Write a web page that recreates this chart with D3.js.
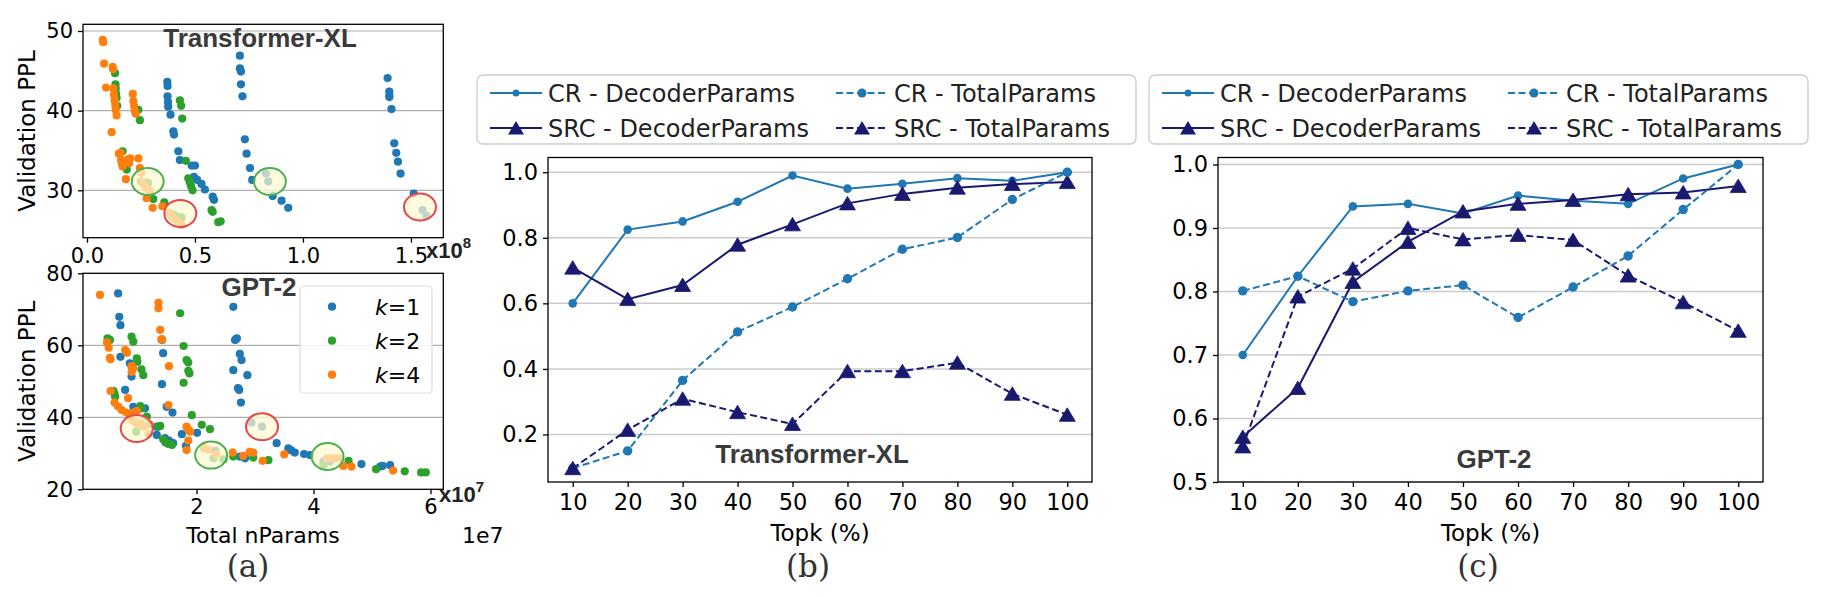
<!DOCTYPE html>
<html>
<head>
<meta charset="utf-8">
<script src="https://cdnjs.cloudflare.com/ajax/libs/d3/7.8.5/d3.min.js"></script>
<style>
  body { margin: 0; background: #fff; }
  svg text { font-family: "DejaVu Sans", sans-serif; }
</style>
</head>
<body>
<div id="root"></div>
<script>
// ---- panel (a): Transformer-XL, x in 1e8 params, y = validation PPL
const txlK1 = [[0.372,43.6],[0.373,43.1],[0.373,41.8],[0.375,41.1],[0.376,40.5],[0.387,39.5],[0.4,37.4],[0.403,37.0],
  [0.423,34.9],[0.43,33.8],[0.485,33.1],[0.5,33.1],[0.495,31.7],[0.51,31.3],[0.53,30.8],[0.546,30.1],[0.582,29.2],[0.588,28.8],
  [0.708,46.9],[0.708,45.3],[0.713,44.9],[0.713,43.3],[0.72,41.8],[0.731,36.4],[0.739,34.6],[0.755,32.8],[0.765,31.3],
  [0.829,32.1],[0.839,31.1],[0.86,29.3],[0.901,28.7],[0.932,27.8],
  [1.392,44.1],[1.40,42.4],[1.40,41.9],[1.40,41.7],[1.41,40.2],[1.423,35.9],[1.432,34.7],[1.44,33.6],[1.452,32.1],[1.513,29.6],[1.554,27.5],[1.572,26.8]];
const txlK2 = [[0.13,44.7],[0.132,43.3],[0.133,42.8],[0.135,42.1],[0.137,41.6],[0.14,40.6],[0.238,40.1],[0.245,38.8],[0.165,34.9],[0.184,32.6],
  [0.25,31.1],[0.265,31.0],[0.283,30.9],[0.307,28.9],[0.358,28.5],[0.393,27.0],[0.41,26.8],[0.438,26.6],[0.43,41.3],[0.436,40.6],[0.441,39.0],
  [0.458,33.7],[0.469,31.5],[0.476,31.0],[0.482,30.5],[0.489,30.0],[0.577,27.5],[0.582,27.3],[0.608,26.0],[0.619,26.1]];
const txlK4 = [[0.073,48.9],[0.075,48.6],[0.079,45.9],[0.088,42.9],[0.119,45.5],[0.121,45.2],[0.122,42.8],[0.125,42.0],[0.128,41.3],[0.131,40.7],
  [0.133,40.1],[0.137,39.4],[0.114,37.3],[0.212,42.1],[0.215,41.2],[0.218,40.6],[0.221,40.0],[0.226,39.6],[0.147,34.6],[0.156,34.7],[0.158,33.8],
  [0.161,33.4],[0.165,33.0],[0.19,33.9],[0.195,33.4],[0.2,34.0],[0.18,31.4],[0.238,34.0],[0.245,32.8],[0.252,32.2],[0.258,31.0],[0.265,30.6],
  [0.272,30.3],[0.28,30.1],[0.29,29.9],[0.276,29.0],[0.304,27.8],[0.349,28.0],[0.376,27.2],[0.39,26.8],[0.405,26.4],[0.42,26.1],[0.438,25.7]];

// ---- panel (a): GPT-2, x in 1e7 params
const gptK1 = [[0.66,74.4],[0.68,67.9],[0.7,65.6],[0.7,56.8],[0.78,47.6],[0.86,55.0],[0.89,51.3],[0.92,42.9],[1.12,42.5],[1.32,37.4],[1.32,35.1],
  [1.41,61.5],[1.43,57.8],[1.41,49.2],[1.49,42.9],[1.59,41.3],[1.46,34.2],[1.53,33.5],[1.6,32.8],[1.75,35.3],[1.82,32.1],[2.01,35.7],[2.32,30.7],
  [2.63,70.7],[2.66,61.5],[2.69,61.9],[2.74,57.6],[2.77,55.9],[2.63,53.1],[2.87,51.7],[2.71,48.1],[2.73,47.6],[2.76,44.1],[2.74,29.1],[2.83,28.6],
  [2.94,38.5],[3.12,37.4],[3.37,32.8],[3.57,31.4],[3.62,30.8],[3.68,30.2],[3.84,29.8],[3.94,29.5],[4.17,27.7],[4.28,27.7],[4.82,27.0],
  [5.14,26.3],[5.18,26.5],[5.31,26.7]];
const gptK2 = [[0.48,61.9],[0.52,61.5],[0.58,47.3],[0.6,46.5],[0.61,45.7],[0.89,62.4],[0.92,61.0],[0.98,56.4],[0.99,55.4],[1.06,53.3],[1.09,51.7],
  [1.04,43.1],[1.06,42.5],[1.15,40.2],[0.97,36.0],[1.35,37.4],[1.38,37.6],[1.43,33.9],[1.47,33.0],[1.52,32.6],[1.58,32.3],[1.72,68.9],[1.78,59.8],
  [1.83,55.9],[1.86,55.2],[1.86,52.9],[1.88,52.2],[1.78,49.6],[1.92,40.6],[2.09,37.9],[2.23,36.7],[2.29,28.6],[2.46,28.3],[2.63,29.1],[2.97,28.8],
  [3.23,28.1],[4.17,26.7],[4.6,27.9],[5.07,25.6],[5.56,25.0],[5.84,24.7],[5.92,24.7]];
const gptK4 = [[0.35,74.0],[0.47,60.8],[0.5,59.3],[0.52,56.5],[0.53,56.1],[0.53,47.3],[0.6,44.1],[0.66,43.0],[0.72,42.0],[0.8,41.3],[0.86,40.8],
  [0.92,41.3],[0.98,41.8],[0.78,58.7],[0.8,58.3],[0.81,57.9],[0.89,54.2],[0.9,53.0],[0.92,53.6],[0.89,52.6],[0.83,45.3],[0.9,39.2],[0.95,38.6],
  [1.0,38.0],[1.05,38.4],[1.1,37.4],[1.2,38.0],[1.18,35.4],[1.35,71.8],[1.35,70.3],[1.38,64.3],[1.40,61.6],[1.41,61.7],[1.52,43.4],[1.53,54.2],
  [1.83,37.4],[1.86,36.6],[1.89,36.0],[1.86,33.5],[1.83,30.9],[2.13,31.5],[2.2,31.0],[2.34,29.8],[2.62,30.2],[2.8,29.3],[2.91,30.4],[2.97,30.2],
  [3.13,27.9],[3.5,29.7],[4.23,28.6],[4.3,28.6],[4.38,28.6],[4.45,28.6],[4.51,26.5],[4.65,26.3],[5.36,25.2]];

// highlighted spots (data units) and their ring colour
const txlMarks = [[0.281,31.1,"g"],[0.432,27.1,"r"],[0.847,31.1,"g"],[1.542,27.9,"r"]];
const gptMarks = [[0.978,36.9,"r"],[2.25,29.5,"g"],[3.12,37.4,"r"],[4.24,29.1,"g"]];

// ---- panels (b) and (c)
const topk = [10, 20, 30, 40, 50, 60, 70, 80, 90, 100];
const txlCrDec  = [0.60, 0.825, 0.85, 0.91, 0.99, 0.95, 0.965, 0.982, 0.974, 1.0];
const txlCrTot  = [0.097, 0.15, 0.365, 0.513, 0.589, 0.675, 0.765, 0.801, 0.917, 1.0];
const txlSrcDec = [0.709, 0.613, 0.656, 0.779, 0.841, 0.905, 0.934, 0.953, 0.964, 0.97];
const txlSrcTot = [0.097, 0.214, 0.309, 0.268, 0.232, 0.393, 0.393, 0.419, 0.324, 0.26];
const gptCrDec  = [0.70, 0.824, 0.934, 0.938, 0.923, 0.951, 0.943, 0.938, 0.978, 1.0];
const gptCrTot  = [0.801, 0.824, 0.784, 0.801, 0.81, 0.759, 0.807, 0.856, 0.929, 1.0];
const gptSrcDec = [0.571, 0.648, 0.815, 0.878, 0.926, 0.938, 0.944, 0.953, 0.956, 0.966];
const gptSrcTot = [0.556, 0.792, 0.836, 0.90, 0.882, 0.889, 0.881, 0.825, 0.783, 0.738];
const legendNames = ["CR - DecoderParams", "SRC - DecoderParams", "CR - TotalParams", "SRC - TotalParams"];

const blue = "#1f77b4";
const navy = "#191970";
const kColors = ["#1f77b4", "#2ca02c", "#ff7f0e"];
const titleColor = "#3a3a3a";

const svg = d3.select("#root")
  .append("svg")
  .attr("width", 1830)
  .attr("height", 597)
  .style("background", "#fff");

function styleAxis(g, size) {
  g.attr("font-size", size).attr("font-family", "DejaVu Sans");
  g.select(".domain").remove();
  g.selectAll(".tick line").attr("stroke", "#000").attr("stroke-width", 1.3);
}

function scatterPanel(o) {
  const left = 83, right = 443.3;
  const x = d3.scaleLinear().domain(o.xDomain).range([left, right]);
  const y = d3.scaleLinear().domain(o.yDomain).range([o.bottom, o.top]);
  const g = svg.append("g");

  g.selectAll(".grid")
    .data(o.grid)
    .enter()
    .append("line")
    .attr("x1", left).attr("x2", right)
    .attr("y1", d => y(d)).attr("y2", d => y(d))
    .attr("stroke", "#b0b0b0")
    .attr("stroke-width", 1.2);

  o.sets.forEach((set, i) => {
    g.append("g").selectAll("circle")
      .data(set)
      .enter()
      .append("circle")
      .attr("cx", d => x(d[0]))
      .attr("cy", d => y(d[1]))
      .attr("r", 4.1)
      .attr("fill", kColors[i]);
  });

  g.selectAll(".hl")
    .data(o.marks)
    .enter()
    .append("ellipse")
    .attr("cx", d => x(d[0]))
    .attr("cy", d => y(d[1]))
    .attr("rx", 16)
    .attr("ry", 13.5)
    .attr("fill", "#fffad2")
    .attr("fill-opacity", 0.72)
    .attr("stroke", d => d[2] == "g" ? "#4caf50" : "#e8474c")
    .attr("stroke-width", 2);

  g.append("g")
    .attr("transform", `translate(0,${o.bottom})`)
    .call(d3.axisBottom(x).tickValues(o.xTicks).tickFormat(o.xFormat).tickSize(5).tickPadding(5))
    .call(a => styleAxis(a, 21));

  g.append("g")
    .attr("transform", `translate(${left},0)`)
    .call(d3.axisLeft(y).tickValues(o.yTicks).tickFormat(d3.format("d")).tickSize(5).tickPadding(5))
    .call(a => styleAxis(a, 21));

  g.append("rect")
    .attr("x", left).attr("y", o.top)
    .attr("width", right - left).attr("height", o.bottom - o.top)
    .attr("fill", "none")
    .attr("stroke", "#000")
    .attr("stroke-width", 1.3);

  g.append("text")
    .attr("transform", `translate(35,${(o.top + o.bottom) / 2}) rotate(-90)`)
    .attr("text-anchor", "middle")
    .attr("font-size", 23)
    .text("Validation PPL");

  g.append("text")
    .attr("x", o.titleX).attr("y", o.titleY)
    .attr("text-anchor", "middle")
    .attr("font-size", 26)
    .attr("font-weight", "bold")
    .style("font-family", "'Liberation Sans', Arial, sans-serif")
    .attr("fill", titleColor)
    .text(o.title);

  const off = g.append("text")
    .attr("x", o.expX).attr("y", o.expY)
    .attr("font-size", 22)
    .attr("font-weight", "bold")
    .style("font-family", "'Liberation Sans', Arial, sans-serif")
    .attr("fill", "#222");
  off.append("tspan").text("x10");
  off.append("tspan").attr("dy", -10).attr("font-size", 15).text(o.exp);
  return g;
}

scatterPanel({
  xDomain: [-0.0185, 1.65], yDomain: [24.05, 50.84], top: 24.3, bottom: 237.7,
  grid: [30, 40, 50], xTicks: [0, 0.5, 1.0, 1.5], xFormat: d3.format(".1f"), yTicks: [30, 40, 50],
  sets: [txlK1, txlK2, txlK4], marks: txlMarks,
  title: "Transformer-XL", titleX: 260, titleY: 47,
  expX: 426, expY: 258, exp: "8"
});

const gA = scatterPanel({
  xDomain: [0.06, 6.219], yDomain: [20, 80], top: 273.3, bottom: 489.3,
  grid: [40, 60], xTicks: [2, 4, 6], xFormat: d3.format("d"), yTicks: [20, 40, 60, 80],
  sets: [gptK1, gptK2, gptK4], marks: gptMarks,
  title: "GPT-2", titleX: 259, titleY: 296,
  expX: 439, expY: 502, exp: "7"
});

// legend of (a)
const legA = gA.append("g");
legA.append("rect")
  .attr("x", 300).attr("y", 286).attr("width", 132).attr("height", 107)
  .attr("rx", 4)
  .attr("fill", "#fff").attr("fill-opacity", 0.85)
  .attr("stroke", "#dddddd").attr("stroke-width", 1.2);
["1", "2", "4"].forEach((k, i) => {
  const cy = 306.7 + i * 34;
  legA.append("circle").attr("cx", 332).attr("cy", cy).attr("r", 4.1).attr("fill", kColors[i]);
  const t = legA.append("text").attr("x", 375).attr("y", cy + 8).attr("font-size", 22);
  t.append("tspan").attr("font-style", "italic").text("k");
  t.append("tspan").text("=" + k);
});

svg.append("text").attr("x", 263).attr("y", 543).attr("text-anchor", "middle").attr("font-size", 22).text("Total nParams");
svg.append("text").attr("x", 462).attr("y", 543).attr("font-size", 22).text("1e7");

// ---- line panels
function linePanel(o) {
  const top = 157.5, bottom = 482;
  const x = d3.scaleLinear().domain([5.5, 104.5]).range([o.left, o.right]);
  const y = d3.scaleLinear().domain(o.yDomain).range([bottom, top]);
  const g = svg.append("g");

  g.selectAll(".grid")
    .data(o.yTicks)
    .enter()
    .append("line")
    .attr("x1", o.left).attr("x2", o.right)
    .attr("y1", d => y(d)).attr("y2", d => y(d))
    .attr("stroke", "#cccccc")
    .attr("stroke-width", 1.5);

  const line = d3.line().x((d, i) => x(topk[i])).y(d => y(d));
  const series = [
    { vals: o.crDec, color: blue, dash: null, marker: "circle", r: 4.3 },
    { vals: o.srcDec, color: navy, dash: null, marker: "tri" },
    { vals: o.crTot, color: blue, dash: "7,3.5", marker: "circle", r: 4.7 },
    { vals: o.srcTot, color: navy, dash: "7,3.5", marker: "tri" }
  ];
  series.forEach(s => {
    g.append("path")
      .datum(s.vals)
      .attr("d", line)
      .attr("fill", "none")
      .attr("stroke", s.color)
      .attr("stroke-width", 2)
      .attr("stroke-dasharray", s.dash);
    const m = g.append("g").selectAll("path")
      .data(s.vals)
      .enter();
    if (s.marker == "circle") {
      m.append("circle")
        .attr("cx", (d, i) => x(topk[i]))
        .attr("cy", d => y(d))
        .attr("r", s.r)
        .attr("fill", s.color);
    } else {
      m.append("path")
        .attr("transform", (d, i) => `translate(${x(topk[i])},${y(d)})`)
        .attr("d", "M0,-7L8,6.5L-8,6.5Z")
        .attr("fill", s.color)
        .attr("stroke", s.color)
        .attr("stroke-width", 0.8);
    }
  });

  g.append("g")
    .attr("transform", `translate(0,${bottom})`)
    .call(d3.axisBottom(x).tickValues(topk).tickFormat(d3.format("d")).tickSize(5).tickPadding(7))
    .call(a => styleAxis(a, 22.5));

  g.append("g")
    .attr("transform", `translate(${o.left},0)`)
    .call(d3.axisLeft(y).tickValues(o.yTicks).tickFormat(d3.format(".1f")).tickSize(5).tickPadding(5))
    .call(a => styleAxis(a, 22.5));

  g.append("rect")
    .attr("x", o.left).attr("y", top)
    .attr("width", o.right - o.left).attr("height", bottom - top)
    .attr("fill", "none")
    .attr("stroke", "#000")
    .attr("stroke-width", 1.3);

  g.append("text")
    .attr("x", (o.left + o.right) / 2).attr("y", 541)
    .attr("text-anchor", "middle")
    .attr("font-size", 23)
    .text("Topk (%)");

  g.append("text")
    .attr("x", o.titleX).attr("y", o.titleY)
    .attr("text-anchor", "middle")
    .attr("font-size", 26)
    .attr("font-weight", "bold")
    .style("font-family", "'Liberation Sans', Arial, sans-serif")
    .attr("fill", titleColor)
    .text(o.title);

  // legend, two columns
  const lg = g.append("g").attr("transform", `translate(${o.legX},75)`);
  lg.append("rect")
    .attr("width", o.legW).attr("height", 69)
    .attr("rx", 6)
    .attr("fill", "#fff")
    .attr("stroke", "#cccccc")
    .attr("stroke-width", 1.3);
  const cols = [13, 359];
  series.forEach((s, i) => {
    const cx = cols[Math.floor(i / 2)];
    const cy = i % 2 == 0 ? 18 : 53;
    lg.append("line")
      .attr("x1", cx).attr("x2", cx + 52)
      .attr("y1", cy).attr("y2", cy)
      .attr("stroke", s.color)
      .attr("stroke-width", 2)
      .attr("stroke-dasharray", s.dash);
    if (s.marker == "circle") {
      lg.append("circle").attr("cx", cx + 26).attr("cy", cy).attr("r", s.dash ? 4.5 : 3.5).attr("fill", s.color);
    } else {
      lg.append("path")
        .attr("transform", `translate(${cx + 26},${cy})`)
        .attr("d", "M0,-7L8,6.5L-8,6.5Z")
        .attr("fill", s.color);
    }
    lg.append("text")
      .attr("x", cx + 58).attr("y", cy + 8.5)
      .attr("font-size", 24)
      .attr("fill", "#222")
      .text(legendNames[i]);
  });
}

linePanel({
  left: 548, right: 1092, yDomain: [0.055, 1.045], yTicks: [0.2, 0.4, 0.6, 0.8, 1.0],
  crDec: txlCrDec, srcDec: txlSrcDec, crTot: txlCrTot, srcTot: txlSrcTot,
  title: "Transformer-XL", titleX: 812, titleY: 463,
  legX: 477, legW: 659
});

linePanel({
  left: 1218, right: 1763, yDomain: [0.5, 1.011], yTicks: [0.5, 0.6, 0.7, 0.8, 0.9, 1.0],
  crDec: gptCrDec, srcDec: gptSrcDec, crTot: gptCrTot, srcTot: gptSrcTot,
  title: "GPT-2", titleX: 1494, titleY: 468,
  legX: 1149, legW: 659
});

// sub-figure captions
[["(a)", 248], ["(b)", 808], ["(c)", 1478]].forEach(c => {
  svg.append("text")
    .attr("x", c[1]).attr("y", 577)
    .attr("text-anchor", "middle")
    .attr("font-size", 31)
    .style("font-family", "'DejaVu Serif', serif")
    .attr("fill", "#333")
    .text(c[0]);
});
</script>
</body>
</html>
